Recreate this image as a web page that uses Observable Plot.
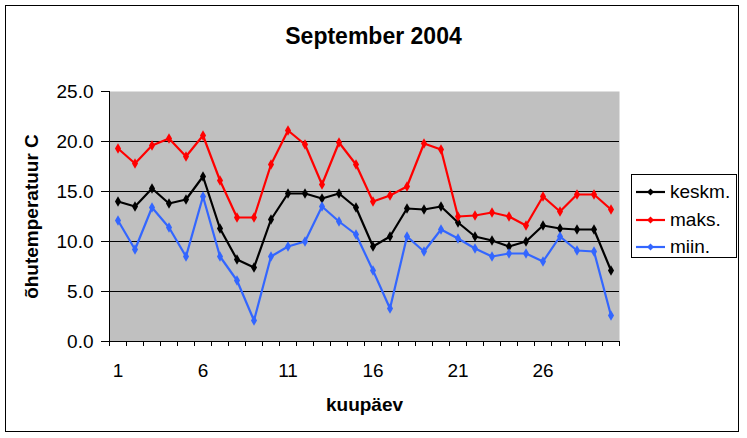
<!DOCTYPE html>
<html>
<head>
<meta charset="utf-8">
<script src="https://cdn.jsdelivr.net/npm/d3@7"></script>
<script src="https://cdn.jsdelivr.net/npm/@observablehq/plot@0.6"></script>
<style>
  html, body { margin: 0; padding: 0; background: #fff; }
  #wrap { position: relative; width: 747px; height: 438px; overflow: hidden; font-family: "Liberation Sans", Arial, sans-serif; }
  #frame { position: absolute; left: 5px; top: 5px; width: 734px; height: 427px; border: 1.5px solid #000; box-sizing: border-box; pointer-events: none; }
  #title { position: absolute; left: 0; width: 747px; top: 22px; text-align: center; font-size: 23px; font-weight: bold; line-height: 28px; }
  #legend { position: absolute; left: 631px; top: 174px; width: 106px; height: 84px; border: 1px solid #000; box-sizing: border-box; background: #fff; }
  .item { position: absolute; left: 4px; height: 24px; display: flex; align-items: center; font-size: 19px; }
  .item svg { margin-right: 5px; }
  #chart svg { position: absolute; left: 0; top: 0; }
</style>
</head>
<body>
<div id="wrap">
  <div id="chart"></div>
  <div id="title">September 2004</div>
  <div id="legend"></div>
  <div id="frame"></div>
</div>
<script>
const days = d3.range(1, 31);
const keskm = [14.0, 13.5, 15.3, 13.8, 14.2, 16.5, 11.3, 8.2, 7.4, 12.2, 14.8, 14.8, 14.3, 14.8, 13.4, 9.5, 10.5, 13.3, 13.2, 13.5, 11.9, 10.5, 10.1, 9.5, 10.0, 11.6, 11.3, 11.2, 11.2, 7.1];
const maks = [19.3, 17.8, 19.6, 20.3, 18.5, 20.6, 16.1, 12.4, 12.4, 17.7, 21.1, 19.7, 15.7, 19.9, 17.7, 14.0, 14.6, 15.5, 19.8, 19.2, 12.5, 12.6, 12.9, 12.5, 11.6, 14.5, 13.0, 14.7, 14.7, 13.2];
const miin = [12.1, 9.2, 13.4, 11.4, 8.5, 14.5, 8.5, 6.1, 2.1, 8.5, 9.5, 10.0, 13.5, 12.0, 10.7, 7.1, 3.3, 10.5, 9.0, 11.2, 10.3, 9.3, 8.5, 8.8, 8.8, 8.0, 10.5, 9.1, 9.0, 2.6];
const seriesNames = ["keskm.", "maks.", "miin."];
const seriesColors = ["#000000", "#ff0000", "#3366ff"];
const xTickLabels = [1, 6, 11, 16, 21, 26];
const yTicks = [0, 5, 10, 15, 20, 25];
const gridValues = [5, 10, 15, 20];

const seriesValues = [keskm, maks, miin];
const data = [];
seriesNames.forEach((name, s) => {
  days.forEach((d, i) => data.push({ day: d, value: seriesValues[s][i], series: name }));
});
const boundaries = d3.range(0, 31).map(i => i + 0.5);

const plot = Plot.plot({
  width: 747,
  height: 438,
  marginLeft: 109,
  marginRight: 128,
  marginTop: 91,
  marginBottom: 97,
  style: { fontFamily: "'Liberation Sans', Arial, sans-serif", fontSize: "19px", color: "#000", background: "transparent", overflow: "visible" },
  x: { domain: [0.5, 30.5] },
  y: { domain: [0, 25] },
  color: { domain: seriesNames, range: seriesColors },
  marks: [
    Plot.frame({ fill: "#c0c0c0", stroke: null }),
    Plot.ruleY(gridValues, { stroke: "#000", strokeWidth: 1 }),
    Plot.axisY({ ticks: yTicks, tickFormat: d3.format(".1f"), tickSize: 8, tickPadding: 8, strokeOpacity: 1, label: "õhutemperatuur C", labelArrow: "none", labelAnchor: "center", labelOffset: 85 }),
    Plot.axisX({ ticks: boundaries, tickFormat: () => "", tickSize: 5, label: null }),
    Plot.axisX({ ticks: xTickLabels, tickSize: 0, tickPadding: 22, label: "kuupäev", labelArrow: "none", labelAnchor: "center", labelOffset: 69 }),
    Plot.ruleY([0], { stroke: "#000", strokeWidth: 1 }),
    Plot.ruleX([0.5], { stroke: "#000", strokeWidth: 1 }),
    Plot.line(data, { x: "day", y: "value", z: "series", stroke: "series", strokeWidth: 2.2 }),
    Plot.dot(data, { x: "day", y: "value", fill: "series", symbol: "diamond", r: 3.2, stroke: null })
  ]
});
// make axis labels bold, strip any arrows
plot.querySelectorAll("[aria-label='x-axis label'], [aria-label='y-axis label']").forEach(g => {
  g.setAttribute("font-weight", "bold");
  g.querySelectorAll("text").forEach(t => { t.textContent = t.textContent.replace(/\s*[→↑←↓]\s*/g, "").trim(); });
});
document.getElementById("chart").appendChild(plot);

const legend = document.getElementById("legend");
seriesNames.forEach((name, i) => {
  const item = document.createElement("div");
  item.className = "item";
  item.style.top = (5 + i * 27.5) + "px";
  item.innerHTML = `<svg width="29" height="10"><line x1="0" y1="5" x2="29" y2="5" stroke="${seriesColors[i]}" stroke-width="2.2"/><path d="M14.5 1.5 L18 5 L14.5 8.5 L11 5 Z" fill="${seriesColors[i]}"/></svg><span>${name}</span>`;
  legend.appendChild(item);
});
</script>
</body>
</html>
